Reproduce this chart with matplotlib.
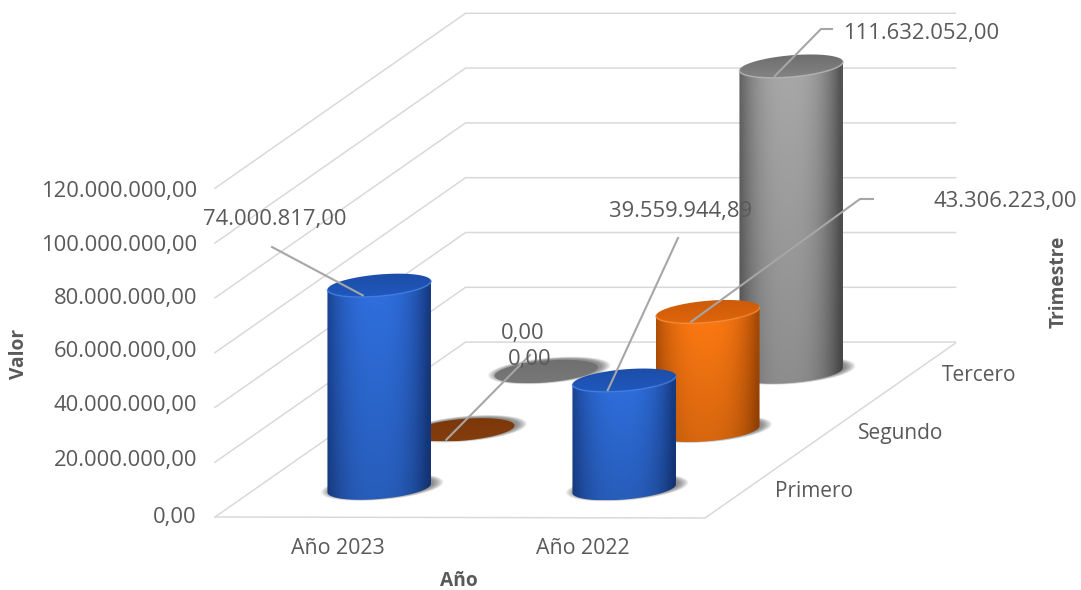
import numpy as np
import matplotlib
matplotlib.use('Agg')
import matplotlib.pyplot as plt
from matplotlib.path import Path
from matplotlib.patches import PathPatch, Polygon

# Datos
anios = ['Año 2023', 'Año 2022']
trimestres = ['Primero', 'Segundo', 'Tercero']
valores_2023 = [74000817.00, 0.00, 0.00]
valores_2022 = [39559944.89, 43306223.00, 111632052.00]
ticks_valor = [0, 20000000, 40000000, 60000000, 80000000, 100000000, 120000000]

# Proyeccion oblicua en pixeles
X0, Y0 = 215, 517
COL_W = 245
FILA_DX, FILA_DY = 83.5, -58.3
PX_VALOR = 2.74e-6
RADIO_A, RADIO_B, TILT = 52, 10.8, np.radians(5)
DY_TEXTO = 2

GRID = '#d9d9d9'
TEXTO = '#595959'
LIDER = '#a6a6a6'

plt.rcParams['font.family'] = ['Open Sans', 'DejaVu Sans']


def proy(col, fila, valor=0):
    x = X0 + COL_W * col + FILA_DX * fila
    y = Y0 + col * 0.5 + FILA_DY * fila - valor * PX_VALOR
    return x, y


def miles(v):
    s = f'{v:,.2f}'
    return s.replace(',', 'X').replace('.', ',').replace('X', '.')


def elipse(cx, cy, t, esc=1.0):
    a, b = RADIO_A * esc, RADIO_B * esc
    x = cx + a * np.cos(t) * np.cos(TILT) + b * np.sin(t) * np.sin(TILT)
    y = cy - a * np.cos(t) * np.sin(TILT) + b * np.sin(t) * np.cos(TILT)
    return x, y


def hex_rgb(c):
    return np.array(matplotlib.colors.to_rgb(c))


def relleno(ax, x, y, img, z):
    # imagen de degradado recortada a la forma
    verts = np.column_stack([x, y])
    im = ax.imshow(img, extent=(x.min(), x.max(), y.max(), y.min()),
                   aspect='auto', zorder=z, interpolation='bilinear')
    im.set_clip_path(PathPatch(Path(np.vstack([verts, verts[0]]), closed=True), transform=ax.transData))


def sombra(ax, cx, cy, z):
    t = np.linspace(0, 2 * np.pi, 80)
    for esc in np.linspace(1.18, 1.0, 9):
        x, y = elipse(cx + 3, cy - 1, t, esc)
        ax.add_patch(Polygon(np.column_stack([x, y]), closed=True, fc='#303030', ec='none', alpha=0.08, zorder=z))


def cilindro(ax, col, fila, valor, colores, z):
    borde, centro, tapa_a, tapa_b, aro = colores
    bx, by = proy(col, fila)
    tx, ty = proy(col, fila, valor)
    sombra(ax, bx, by, z)
    t0 = np.arctan2(RADIO_B * np.sin(TILT), RADIO_A * np.cos(TILT))
    arco = np.linspace(t0, t0 + np.pi, 60)
    if valor > 0:
        xb, yb = elipse(bx, by, arco)
        xt, yt = elipse(tx, ty, arco)
        x = np.concatenate([xb, xt[::-1]])
        y = np.concatenate([yb, yt[::-1]])
        w = np.linspace(0, 1, 160)
        # sombreado suave: oscuro solo cerca de los bordes
        f = 1 - np.abs(2 * w - 0.95) ** 2.6
        f = np.clip(f, 0, 1)[:, None]
        fila_rgb = hex_rgb(borde)[None, :] * (1 - f) + hex_rgb(centro)[None, :] * f
        v = np.linspace(1, 0.84, 120)[:, None, None]
        relleno(ax, x, y, np.clip(fila_rgb[None, :, :] * v, 0, 1), z + 0.1)
    t = np.linspace(0, 2 * np.pi, 120)
    xc, yc = elipse(tx, ty, t)
    grad = np.linspace(0, 1, 40)[:, None, None]
    relleno(ax, xc, yc, hex_rgb(tapa_a)[None, None, :] * (1 - grad) + hex_rgb(tapa_b)[None, None, :] * grad, z + 0.2)
    if valor > 0:
        xa, ya = elipse(tx, ty, arco)
        ax.plot(xa, ya, color=aro, lw=1.1, alpha=0.8, zorder=z + 0.3, solid_capstyle='round')
    return tx, ty


fig = plt.figure(figsize=(10.81, 5.90), dpi=100)
ax = fig.add_axes([0, 0, 1, 1])
fila_max = len(trimestres)
col_max = len(anios)

# Rejilla: pared izquierda, pared del fondo y piso
for v in ticks_valor:
    xa, ya = proy(0, 0, v)
    xb, yb = proy(0, fila_max, v)
    xc = proy(col_max, fila_max)[0]
    ax.plot([xa, xb, xc], [ya, yb, yb], color=GRID, lw=1.1, zorder=1)
xs, ys = zip(proy(0, 0), proy(col_max, 0), proy(col_max, fila_max))
ax.plot(xs, ys, color=GRID, lw=1.1, zorder=1)

# Colores: borde, centro, tapa fondo, tapa frente, aro
AZUL = ('#173c86', '#2f6fde', '#1c4ea8', '#2058bd', '#3f7de0')
NARANJA = ('#a94a04', '#ff7a12', '#cc5a08', '#de660c', '#f58a35')
GRIS = ('#555555', '#a8a8a8', '#6e6e6e', '#838383', '#b5b5b5')
PLANOS = {1: ('#843c0c', '#843c0c', '#7c380a', '#843c0c', '#843c0c'),
          2: ('#757575', '#757575', '#6f6f6f', '#787878', '#787878')}
COLORES = [AZUL, NARANJA, GRIS]

# De atras hacia adelante
z = 3
tapas = {}
for fila in range(fila_max - 1, -1, -1):
    for col, vals in enumerate([valores_2023, valores_2022]):
        colores = COLORES[fila] if vals[fila] > 0 else PLANOS[fila]
        tapas[(col, fila)] = cilindro(ax, col + 0.5, fila + 0.5, vals[fila], colores, z)
        z += 1

# Etiquetas de datos con lineas guia
ANCLA = (-16.5, 10)
etiquetas = [
    ((0, 0), valores_2023[0], [(272, 247)], (275, 217)),
    ((0, 1), valores_2023[1], [(530, 355)], (530, 358)),
    ((0, 2), valores_2023[2], [], (523, 331)),
    ((1, 0), valores_2022[0], [(678, 238)], (680, 209)),
    ((1, 1), valores_2022[1], [(860, 199), (873, 199)], (1005, 199)),
    ((1, 2), valores_2022[2], [(821, 29), (832, 29)], (921, 31)),
]
for clave, valor, guia, pos in etiquetas:
    cx, cy = tapas[clave]
    if guia:
        px = [cx + ANCLA[0]] + [p[0] for p in guia]
        py = [cy + ANCLA[1]] + [p[1] for p in guia]
        ax.plot(px, py, color=LIDER, lw=1.5, zorder=40)
    ax.text(pos[0], pos[1] + DY_TEXTO, miles(valor), ha='center', va='center', fontsize=15.8, color=TEXTO, zorder=50)

# Eje de valores
AJUSTE_TICK = [-1, -4, -4, -3, -1, 0, 1]
for v, dy in zip(ticks_valor, AJUSTE_TICK):
    ax.text(197, proy(0, 0, v)[1] + dy + DY_TEXTO, miles(v), ha='right', va='center', fontsize=15.8, color=TEXTO)

# Anios y trimestres
for i, a in enumerate(anios):
    x, y = proy(i + 0.5, 0)
    ax.text(x, y + 29 + DY_TEXTO, a, ha='center', va='center', fontsize=15.4, color=TEXTO)
for i, t in enumerate(trimestres):
    x, y = proy(col_max, i + 0.5)
    ax.text(x + 28, y + 1 + DY_TEXTO, t, ha='left', va='center', fontsize=15, color=TEXTO)

# Titulos de ejes
ax.text(19, 354, 'Valor', rotation=90, ha='center', va='center', fontsize=13.8, fontweight='bold', color=TEXTO)
ax.text(459, 581, 'Año', ha='center', va='center', fontsize=13.8, fontweight='bold', color=TEXTO)
ax.text(1059, 282, 'Trimestre', rotation=90, ha='center', va='center', fontsize=13.8, fontweight='bold', color=TEXTO)

ax.set_xlim(0, 1081)
ax.set_ylim(590, 0)
ax.axis('off')
fig.savefig('out.png', dpi=100, facecolor='white')
